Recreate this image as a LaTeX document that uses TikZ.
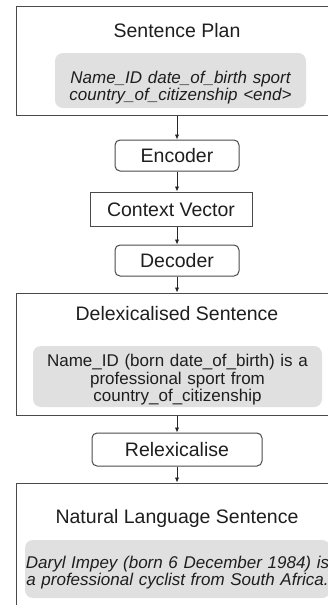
\documentclass[tikz,border=0pt]{standalone}
\usepackage{fontspec}
\setmainfont{Liberation Sans}
\usetikzlibrary{arrows.meta}
\definecolor{linec}{HTML}{4A4A4A}
\definecolor{greyfill}{HTML}{E0E0E0}
\definecolor{txt}{HTML}{1E1E1E}
\tikzset{
  bigbox/.style={draw=linec, line width=1pt, rectangle, inner sep=0pt, minimum width=322pt},
  titletext/.style={font=\fontsize{19.5pt}{23pt}\selectfont, text=txt, inner sep=0pt, anchor=base},
  greybox/.style={fill=greyfill, draw=none, rounded corners=8pt, inner sep=0pt},
  greytext/.style={font=\fontsize{17pt}{17.6pt}\selectfont, text=txt, inner sep=0pt, anchor=base, text width=320pt, align=center},
  roundbox/.style={draw=linec, line width=1pt, rounded corners=5pt, inner sep=0pt,
    font=\fontsize{19.5pt}{23pt}\selectfont, text=txt, text height=14pt, text depth=0pt},
  sharpbox/.style={draw=linec, line width=1pt, inner sep=0pt,
    font=\fontsize{19.5pt}{23pt}\selectfont, text=txt, text height=14pt, text depth=0pt},
  arr/.style={draw=black!85, line width=0.9pt, -{Latex[length=5pt,width=4.5pt]}}
}
\begin{document}
\begin{tikzpicture}[x=1pt,y=-1pt]
\clip (0,0) rectangle (328,605);
\fill[white] (0,0) rectangle (328,605);

% Sentence Plan
\node[bigbox, minimum height=109pt] (plan) at (177,60.5) {};
\node[titletext] (plantitle) at (177,37) {Sentence Plan};
\node[greybox, minimum width=251pt, minimum height=55pt] (plangrey) at (180.5,80.5) {};
\node[greytext] (plantext) at (180.5,83) {\itshape Name\_ID date\_of\_birth sport\\country\_of\_citizenship <end>};

% Encoder / Context / Decoder
\node[roundbox, minimum width=124pt, minimum height=31pt] (enc) at (177,155.5) {Encoder};
\node[sharpbox, minimum width=162pt, minimum height=34pt] (ctx) at (171,209) {Context Vector};
\node[roundbox, minimum width=124pt, minimum height=31pt] (dec) at (177,260.5) {Decoder};

% Delexicalised
\node[bigbox, minimum height=122pt] (delex) at (177,354) {};
\node[titletext] (delextitle) at (177,320.5) {Delexicalised Sentence};
\node[greybox, minimum width=289pt, minimum height=61pt] (delexgrey) at (177.5,376.5) {};
\node[greytext] (delextext) at (177.5,366.5) {Name\_ID (born date\_of\_birth) is a\\professional sport from\\country\_of\_citizenship};

% Relexicalise
\node[roundbox, minimum width=170pt, minimum height=33pt] (relex) at (177,449.5) {Relexicalise};

% Natural Language
\node[bigbox, minimum height=142pt] (nl) at (177,554) {};
\node[titletext] (nltitle) at (177,523) {Natural Language Sentence};
\node[greybox, minimum width=305pt, minimum height=58pt] (nlgrey) at (177.5,569) {};
\node[greytext] (nltext) at (177.5,568.3) {\itshape Daryl Impey (born 6 December 1984) is\\a professional cyclist from South Africa.};

% connectors
\draw[arr] (plan.south -| enc.north) -- (enc.north);
\draw[arr] (enc.south) -- (enc.south |- ctx.north);
\draw[arr] (ctx.south -| dec.north) -- (dec.north);
\draw[arr] (dec.south) -- (dec.south |- delex.north);
\draw[arr] (delex.south -| relex.north) -- (relex.north);
\draw[arr] (relex.south) -- (relex.south |- nl.north);
\end{tikzpicture}
\end{document}
